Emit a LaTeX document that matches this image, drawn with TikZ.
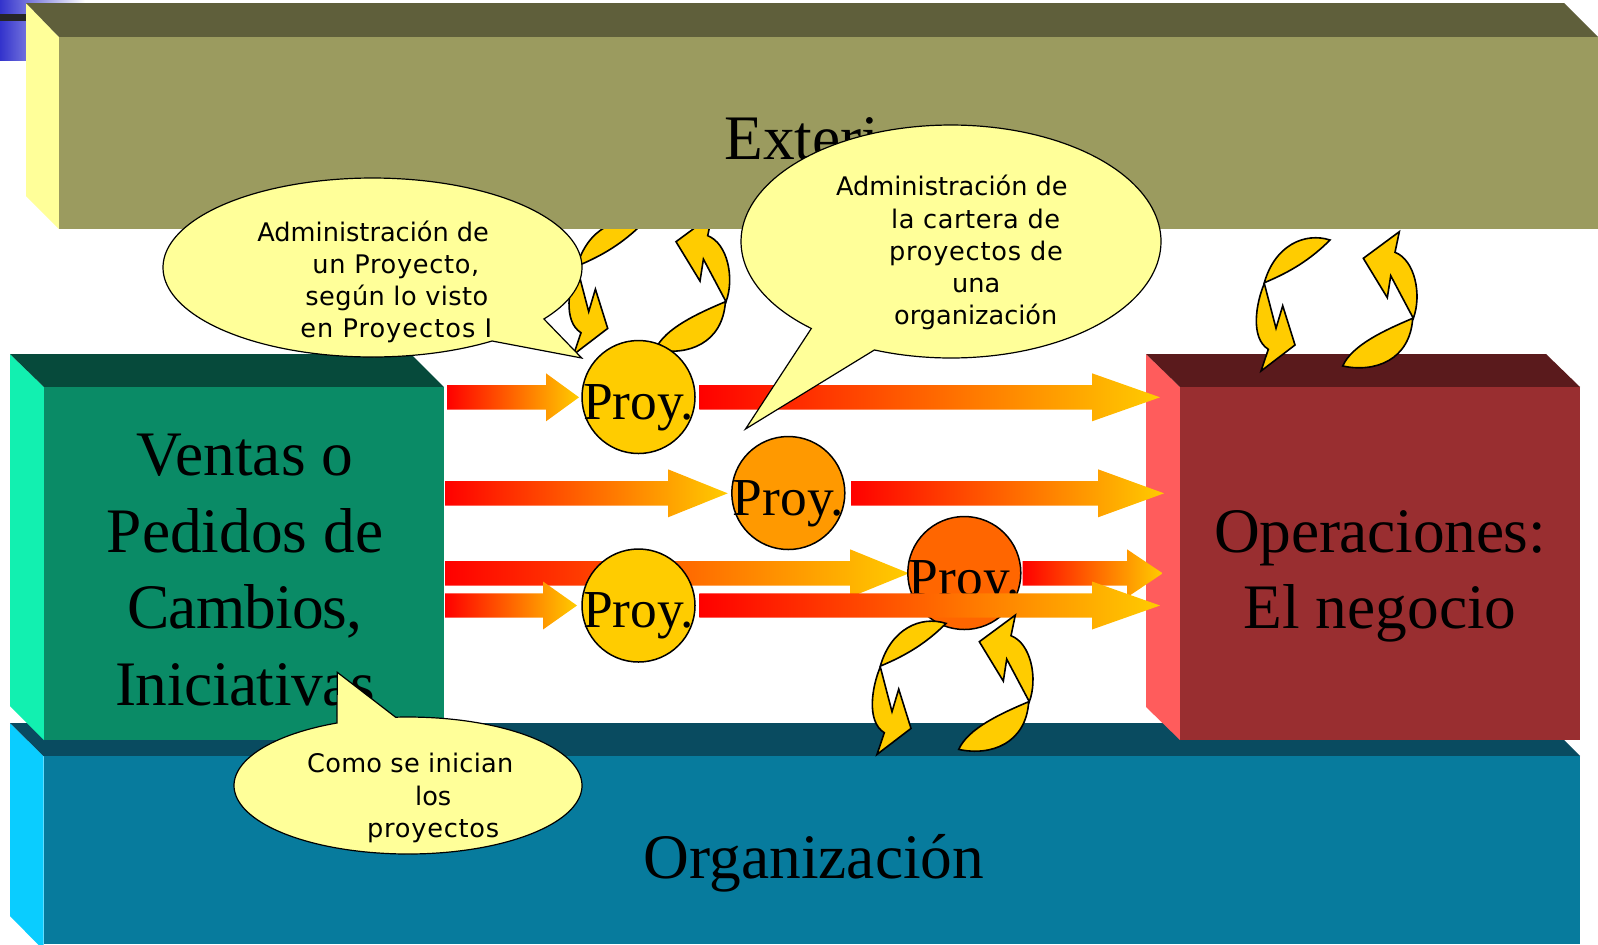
\documentclass[tikz,border=0pt]{standalone}
\usepackage{fontspec}
\setmainfont{Liberation Serif}
\newfontfamily\calloutfont{DejaVu Sans}
\definecolor{olivefront}{HTML}{9B9B5F}
\definecolor{olivetop}{HTML}{5F5F3B}
\definecolor{paleyellow}{HTML}{FFFF99}
\definecolor{greenfront}{HTML}{0A8B66}
\definecolor{greentop}{HTML}{064A3B}
\definecolor{greenleft}{HTML}{12F0B0}
\definecolor{redfront}{HTML}{992E30}
\definecolor{redtop}{HTML}{5A1A1C}
\definecolor{redleft}{HTML}{FF5C5C}
\definecolor{tealfront}{HTML}{077B9D}
\definecolor{tealtop}{HTML}{094B60}
\definecolor{tealleft}{HTML}{0ACDFF}
\definecolor{gold}{HTML}{FFCC00}
\definecolor{orangeB}{HTML}{FF9900}
\definecolor{orangeC}{HTML}{FF6600}
\definecolor{blueA}{HTML}{3333CC}
\definecolor{blueB}{HTML}{7070DC}
\tikzset{
  proy/.style={circle,draw=black,line width=0.75pt,inner sep=0pt,minimum size=56.5pt,
    font=\fontsize{26.7}{30}\selectfont},
  bigtext/.style={inner sep=0pt,align=center,font=\fontsize{31.7}{38.2}\selectfont},
  callout/.style={draw=black,line width=0.6pt,fill=paleyellow},
  callouttext/.style={inner sep=0pt,anchor=west,align=left,font=\calloutfont\fontsize{12.8}{16.1}\selectfont},
  swirlpart/.style={draw=black,line width=0.8pt,fill=gold,miter limit=10},
  garrow/.style={left color=red,right color=gold,draw=none},
  swirlpair/.pic={
    \path[swirlpart] (84.3,72.7) .. controls (95,35) and (125,22) .. (150,30)
       .. controls (130,50) and (110,62) .. (84.3,72.7) -- cycle;
    \path[swirlpart] (84.3,73.5) .. controls (76,93) and (70,128) .. (88.3,139.3)
       -- (81,161) -- (115,135) -- (102.7,95.7) -- (96,118.3) -- cycle;
    \path[swirlpart] (233.3,108.3) .. controls (242,85) and (235,50) .. (215,42.3)
       -- (219.3,21.7) -- (183.3,48.3) -- (207.3,87.7) -- (210.7,65.7) -- cycle;
    \path[swirlpart] (232.7,108.3) .. controls (230,150) and (195,163) .. (162.7,156)
       .. controls (172,135) and (205,120) .. (232.7,108.3) -- cycle;
  }
}
\newcommand{\gradarrow}[4]{% start x, centre y, head start x, tip x
  \shade[garrow] ({#1},{#2-12.2}) -- ({#3},{#2-12.2}) -- ({#3},{#2-24}) -- ({#4},{#2})
    -- ({#3},{#2+24}) -- ({#3},{#2+12.2}) -- ({#1},{#2+12.2}) -- cycle;}
\newcommand{\proytext}{\smash{\raisebox{-11.15pt}{Proy.}}}
\newcommand{\spaced}[2]{{\addfontfeature{LetterSpace=#1}#2}}
\begin{document}
\begin{tikzpicture}[x=0.5pt,y=-0.5pt]
\useasboundingbox (0,0) rectangle (1598,944);
% corner decoration
\shade[left color=blueA,right color=white,draw=none] (0,0) rectangle (85,3);
\shade[left color=blueA,right color=blueB,draw=none] (0,3) rectangle (26,60);
\fill[black!85] (0,14) rectangle (26,21);
% swirl behind the exterior box
\pic at (492.7,193.4) {swirlpair};
% exterior box
\fill[paleyellow] (26,3) -- (59,37) -- (59,229) -- (26,196) -- cycle;
\fill[olivetop] (26,3) -- (1564,3) -- (1598,37) -- (59,37) -- cycle;
\fill[olivefront] (59,37) rectangle (1598,229);
\node[bigtext,anchor=base west] (exterior) at (724,159.5) {Exterior};
% organisation box
\fill[tealleft] (10,723) -- (43.5,756) -- (43.5,950) -- (10,916) -- cycle;
\fill[tealtop] (10,723) -- (1547,723) -- (1580,756) -- (43.5,756) -- cycle;
\fill[tealfront] (43.5,756) rectangle (1580,944);
\node[bigtext,anchor=base] (organizacion) at (814,878.5) {Organización};
% sales box
\fill[greenleft] (10,354) -- (44,387) -- (44,740) -- (10,706) -- cycle;
\fill[greentop] (10,354) -- (411,354) -- (444,387) -- (44,387) -- cycle;
\fill[greenfront] (44,387) rectangle (444,740);
\node[bigtext] (ventas) at (245,570) {Ventas o\\Pedidos de\\\spaced{-1.4}{Cambios,}\\\spaced{-0.7}{Iniciativas}};
% operations box
\fill[redleft] (1146,354) -- (1180,387) -- (1180,740) -- (1146,707) -- cycle;
\fill[redtop] (1146,354) -- (1546,354) -- (1580,387) -- (1180,387) -- cycle;
\fill[redfront] (1180,387) rectangle (1580,740);
\node[bigtext] (operaciones) at (1380,576.5) {\spaced{-0.4}{Operaciones:}\\El negocio};
% flow arrows
\gradarrow{447}{397.3}{546}{579}
\gradarrow{699.3}{397.3}{1092}{1160}
\gradarrow{445}{493.3}{668}{727.7}
\gradarrow{851}{493.3}{1098}{1164}
\gradarrow{445}{573.3}{850}{909}
\gradarrow{1022.7}{573.3}{1127}{1162.7}
% projects
\node[proy,fill=gold] (proyA) at (638.5,397) {\proytext};
\node[proy,fill=orangeB] (proyB) at (788.3,493) {\proytext};
\node[proy,fill=gold] (proyD) at (638.5,605.5) {\proytext};
\node[proy,fill=orangeC] (proyC) at (964.3,573) {\proytext};
\gradarrow{445}{605.5}{543}{577}
\gradarrow{699.3}{605.5}{1092}{1160}
% swirls
\pic at (796,593.4) {swirlpair};
\pic at (1180,210) {swirlpair};
% callouts
\draw[callout] plot[domain=55.2:395.1,samples=160] ({372.5+209.5*cos(\x)},{267.5+89.5*sin(\x)}) -- (581.7,358) -- cycle;
\node[callouttext] (calloutA) at (257,282) {Administración de\\\hspace*{27.5pt}\spaced{2.7}{un Proyecto,}\\\hspace*{24pt}\spaced{1.7}{según lo visto}\\\hspace*{21.5pt}\spaced{4}{en Proyectos I}};
\draw[callout] plot[domain=131.7:471.4,samples=160] ({951+210*cos(\x)},{241.5+116.5*sin(\x)}) -- (745.5,429) -- cycle;
\node[callouttext] (calloutB) at (835.7,252.7) {Administración de\\\hspace*{27.5pt}\spaced{2.2}{la cartera de}\\\hspace*{26.5pt}\spaced{3}{proyectos de}\\\hspace*{58pt}una\\\hspace*{29pt}organización};
\draw[callout] plot[domain=265.9:605.9,samples=160] ({408+174*cos(\x)},{785.5+68.5*sin(\x)}) -- (337.3,672.3) -- cycle;
\node[callouttext] (calloutC) at (306.8,798) {\spaced{1}{Como se inician}\\\hspace*{54pt}los\\\hspace*{30pt}\spaced{3}{proyectos}};
\end{tikzpicture}
\end{document}
